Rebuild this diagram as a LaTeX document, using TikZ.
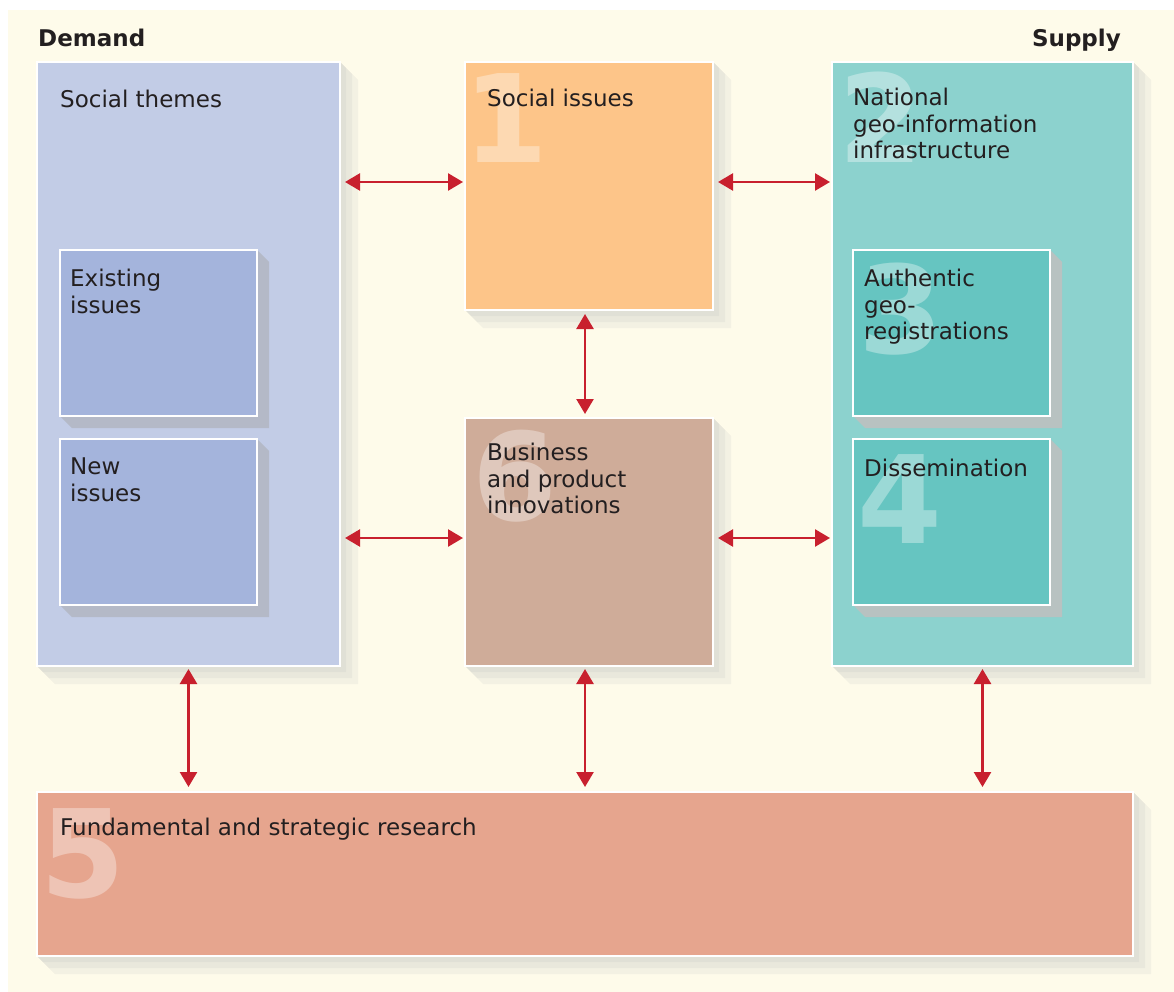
\documentclass[tikz,border=0pt]{standalone}
\usepackage{fontspec}
\setmainfont{DejaVu Sans}
\usetikzlibrary{arrows.meta}
\definecolor{cream}{HTML}{FEFBEA}
\definecolor{themesblue}{HTML}{C2CCE6}
\definecolor{subblue}{HTML}{A4B4DC}
\definecolor{issuesorange}{HTML}{FDC589}
\definecolor{busbrown}{HTML}{CFAC99}
\definecolor{ngiiteal}{HTML}{8CD2CE}
\definecolor{subteal}{HTML}{66C5C1}
\definecolor{researchred}{HTML}{E6A58E}
\definecolor{arrowred}{HTML}{C8202E}
\definecolor{textdark}{HTML}{231F20}
\definecolor{shblue}{HTML}{B4B9C7}
\definecolor{shteal}{HTML}{B8C2C1}
\definecolor{shgrey}{HTML}{9A9CA6}
% shadow polygon: x1 y1 x2 y2 d style
\newcommand\dropshd[6]{%
  \fill[#6] (#3,#2) -- (#3+#5,#2+#5) -- (#3+#5,#4+#5) -- (#1+#5,#4+#5) -- (#1,#4) -- cycle;}
\newcommand\outershd[4]{%
  \dropshd{#1}{#2}{#3}{#4}{18}{outsh}\dropshd{#1}{#2}{#3}{#4}{12}{outsh}\dropshd{#1}{#2}{#3}{#4}{6}{outsh}}
\begin{document}
\begin{tikzpicture}[x=1pt,y=-1pt,
  outsh/.style={fill=shgrey,fill opacity=0.1},
  box/.style={draw=white,line width=1.5pt,inner sep=0pt,outer sep=0pt,anchor=north west},
  lbl/.style={anchor=north west,inner sep=0pt,align=left,text=textdark,
    font=\fontsize{23}{26.5}\selectfont,execute at begin node={\rule{0pt}{18pt}}},
  head/.style={inner sep=0pt,text=textdark,font=\bfseries\fontsize{23}{26.5}\selectfont,
    execute at begin node={\rule{0pt}{18pt}}},
  digit/.style={anchor=base west,inner sep=0pt,text=white,text opacity=0.35,
    font=\bfseries\fontsize{122}{122}\selectfont},
  biarr/.style={draw=arrowred,line width=2.5pt,
    {Triangle[length=15pt,width=17pt]}-{Triangle[length=15pt,width=17pt]}}]
\useasboundingbox (0,0) rectangle (1174,992);
\fill[cream] (8,10) rectangle (1174,992);
% outer shadows
\outershd{37}{62}{340}{666}
\outershd{465}{62}{713}{310}
\outershd{465}{418}{713}{666}
\outershd{832}{62}{1133}{666}
\outershd{37}{792}{1133}{956}
% big boxes
\node[box,fill=themesblue,minimum width=303pt,minimum height=604pt] (themes) at (37,62) {};
\node[box,fill=issuesorange,minimum width=248pt,minimum height=248pt] (issues) at (465,62) {};
\node[box,fill=busbrown,minimum width=248pt,minimum height=248pt] (business) at (465,418) {};
\node[box,fill=ngiiteal,minimum width=301pt,minimum height=604pt] (ngii) at (832,62) {};
\node[box,fill=researchred,minimum width=1096pt,minimum height=164pt] (research) at (37,792) {};
% inner shadows
\dropshd{60}{250}{257}{416}{12}{shblue}
\dropshd{60}{439}{257}{605}{12}{shblue}
\dropshd{853}{250}{1050}{416}{12}{shteal}
\dropshd{853}{439}{1050}{605}{12}{shteal}
% inner boxes
\node[box,fill=subblue,minimum width=197pt,minimum height=166pt] (existing) at (60,250) {};
\node[box,fill=subblue,minimum width=197pt,minimum height=166pt] (new) at (60,439) {};
\node[box,fill=subteal,minimum width=197pt,minimum height=166pt] (authentic) at (853,250) {};
\node[box,fill=subteal,minimum width=197pt,minimum height=166pt] (dissem) at (853,439) {};
% big numbers
\node[digit] (n1) at (463,163) {1};
\node[digit] (n2) at (838,163) {2};
\node[digit] (n3) at (858,353) {3};
\node[digit] (n4) at (857,543) {4};
\node[digit] (n5) at (40,897) {5};
\node[digit] (n6) at (472,520) {6};
% headings
\node[head,anchor=north west] (demand) at (38,28) {Demand};
\node[head,anchor=north east] (supply) at (1121,28) {Supply};
% labels
\node[lbl] (tthemes) at (60,89) {Social themes};
\node[lbl] (tissues) at (487,88) {Social issues};
\node[lbl] (tngii) at (853,88) {National\\geo-information\\infrastructure};
\node[lbl] (texisting) at (70,269) {Existing\\issues};
\node[lbl] (tnew) at (70,458) {New\\issues};
\node[lbl] (tauth) at (864,269) {Authentic\\geo-\\registrations};
\node[lbl] (tdissem) at (864,458) {Dissemination};
\node[lbl] (tbus) at (487,443) {Business\\and product\\innovations};
\node[lbl] (tresearch) at (60,817) {Fundamental and strategic research};
% connectors
\draw[biarr,shorten <=5pt,shorten >=2pt] ([yshift=4pt]themes.east |- issues.west) -- ([yshift=4pt]issues.west);
\draw[biarr,shorten <=5pt,shorten >=2pt] ([yshift=4pt]issues.east) -- ([yshift=4pt]ngii.west |- issues.east);
\draw[biarr,shorten <=5pt,shorten >=2pt] ([yshift=4pt]themes.east |- business.west) -- ([yshift=4pt]business.west);
\draw[biarr,shorten <=5pt,shorten >=2pt] ([yshift=4pt]business.east) -- ([yshift=4pt]ngii.west |- business.east);
\draw[biarr,shorten <=4pt,shorten >=4pt] ([xshift=-4pt]issues.south) -- ([xshift=-4pt]business.north);
\draw[biarr,shorten <=3pt,shorten >=5pt] (themes.south) -- (themes.south |- research.north);
\draw[biarr,shorten <=3pt,shorten >=5pt] ([xshift=-4pt]business.south) -- ([xshift=-4pt]business.south |- research.north);
\draw[biarr,shorten <=3pt,shorten >=5pt] (ngii.south) -- (ngii.south |- research.north);
\end{tikzpicture}
\end{document}
